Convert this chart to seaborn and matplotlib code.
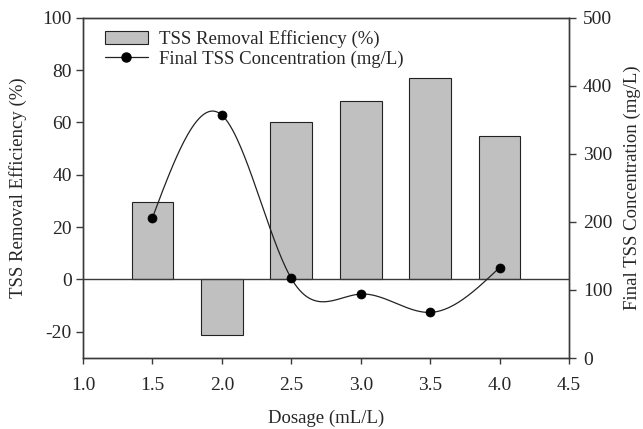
import numpy as np
import pandas as pd
import matplotlib
matplotlib.use("Agg")
import matplotlib.pyplot as plt
import seaborn as sns
from matplotlib.patches import Patch
from matplotlib.lines import Line2D

# ---- data ----
dosage = [1.5, 2.0, 2.5, 3.0, 3.5, 4.0]
removal_eff = [29.7, -21.3, 60.0, 68.2, 77.1, 54.8]
final_tss = [206, 357, 117, 94, 67, 133]

x_ticks = [1.0, 1.5, 2.0, 2.5, 3.0, 3.5, 4.0, 4.5]
left_ticks = [-20, 0, 20, 40, 60, 80, 100]
right_ticks = [0, 100, 200, 300, 400, 500]

sns.set_theme(style="ticks")
plt.rcParams['font.family'] = ['Liberation Serif', 'DejaVu Serif']

FS_TICK = 14
FS_LAB = 13.5
spine_c = '#3a3a3a'

fig = plt.figure(figsize=(6.43, 4.29), dpi=100)
ax = fig.add_axes([0.129, 0.1655, 0.756, 0.793])

df = pd.DataFrame({"dosage": dosage, "eff": removal_eff, "tss": final_tss})

sns.barplot(data=df, x="dosage", y="eff", native_scale=True, width=0.6,
            color="#c0c0c0", saturation=1, edgecolor="#222222", linewidth=0.8,
            ax=ax, zorder=2)
ax.axhline(0, color=spine_c, lw=1.0, zorder=3)

ax.set_xlim(1.0, 4.5)
ax.set_ylim(-30, 100)
ax.set_xticks(x_ticks)
ax.set_xticklabels([f"{v:.1f}" for v in x_ticks])
ax.set_yticks(left_ticks)
ax.set_yticklabels([str(v) for v in left_ticks])
ax.set_xlabel("Dosage (mL/L)", fontsize=FS_LAB, labelpad=11)
ax.set_ylabel("TSS Removal Efficiency (%)", fontsize=FS_LAB, labelpad=11)
ax.tick_params(axis='x', direction='out', length=4, width=1, pad=10,
               labelsize=FS_TICK, color=spine_c)
ax.tick_params(axis='y', direction='out', length=5, width=1, pad=3,
               labelsize=FS_TICK, color=spine_c)
for s in ax.spines.values():
    s.set_color(spine_c)
    s.set_linewidth(1.0)

ax2 = ax.twinx()
ax2.set_ylim(0, 500)
ax2.set_yticks(right_ticks)
ax2.set_yticklabels([str(v) for v in right_ticks])
ax2.set_ylabel("Final TSS Concentration (mg/L)", fontsize=FS_LAB, labelpad=8)
ax2.tick_params(axis='y', direction='out', length=5, width=1, pad=5,
                labelsize=FS_TICK, color=spine_c)
for s in ax2.spines.values():
    s.set_color(spine_c)
    s.set_linewidth(1.0)

# natural cubic spline for smooth connecting curve (rendering only)
xs = np.array(dosage, float)
ys = np.array(final_tss, float)
n = len(xs)
h = np.diff(xs)
A = np.zeros((n, n))
b = np.zeros(n)
A[0, 0] = 1
A[-1, -1] = 1
for i in range(1, n - 1):
    A[i, i - 1] = h[i - 1]
    A[i, i] = 2 * (h[i - 1] + h[i])
    A[i, i + 1] = h[i]
    b[i] = 6 * ((ys[i + 1] - ys[i]) / h[i] - (ys[i] - ys[i - 1]) / h[i - 1])
M = np.linalg.solve(A, b)
cx, cy = [], []
for i in range(n - 1):
    t = np.linspace(xs[i], xs[i + 1], 60)
    a_ = (xs[i + 1] - t) / h[i]
    b_ = (t - xs[i]) / h[i]
    yy = (a_ * ys[i] + b_ * ys[i + 1]
          + ((a_ ** 3 - a_) * M[i] + (b_ ** 3 - b_) * M[i + 1]) * h[i] ** 2 / 6)
    cx.extend(t)
    cy.extend(yy)
sns.lineplot(x=cx, y=cy, ax=ax2, color='#222222', lw=0.9, sort=False,
             estimator=None, zorder=4)
sns.scatterplot(data=df, x="dosage", y="tss", ax=ax2, color='black', s=42,
                edgecolor='black', zorder=5)
ax2.set_xlabel("")

handles = [
    Patch(facecolor="#c0c0c0", edgecolor="#222222", linewidth=0.8),
    Line2D([0], [0], color='#222222', lw=0.9, marker='o', markersize=6.5,
           markerfacecolor='black', markeredgecolor='black'),
]
labels = ["TSS Removal Efficiency (%)", "Final TSS Concentration (mg/L)"]
ax2.legend(handles, labels, loc='upper left', bbox_to_anchor=(0.02, 1.0),
           frameon=False, fontsize=FS_LAB, handlelength=2.3, handletextpad=0.6,
           borderaxespad=0.25, labelspacing=0.15)

fig.savefig("out.png", dpi=100)
